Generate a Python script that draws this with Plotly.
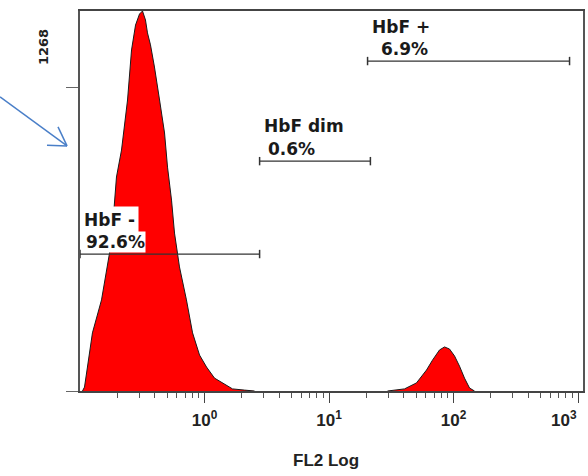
import plotly.graph_objects as go
import math

# ---- data ----
# FL2 intensity (linear units, log axis) and event counts of the histogram outline
fl2_peak1 = [0.1047, 0.1087, 0.1148, 0.1259, 0.1489, 0.1726, 0.1824, 0.1892, 0.1963, 0.2155,
             0.2409, 0.2594, 0.2793, 0.3006, 0.3177, 0.3357, 0.3483, 0.3681, 0.3963, 0.4355,
             0.4775, 0.5047, 0.5433, 0.5741, 0.6295, 0.7161, 0.8017, 0.9120, 1.038, 1.203,
             1.395, 1.679, 2.095, 2.523]
cnt_peak1 = [0, 13, 80, 194, 304, 460, 544, 637, 714, 804,
             971, 1138, 1221, 1258, 1268, 1238, 1195, 1155, 1081, 971,
             861, 747, 637, 527, 414, 304, 194, 120, 80, 43,
             27, 7, 3, 0]
fl2_peak2 = [29.5, 40.4, 50.4, 60.7, 67.8, 77.2, 84.7, 92.9, 101.9, 111.7, 122.5, 134.5, 147.5]
cnt_peak2 = [0, 7, 27, 70, 103, 137, 147, 140, 117, 83, 43, 10, 0]

y_max = 1268
y_tick = 1014

# gates: name, percentage, start, end, level (counts)
gate_names = ["HbF -", "HbF dim", "HbF +"]
gate_pcts = ["92.6%", "0.6%", "6.9%"]
gate_start = [0.1, 2.77, 20.4]
gate_end = [2.77, 21.5, 855]
gate_level = [457, 767, 1101]

x_tick_vals = [1, 10, 100, 1000]
x_tick_text = ["10<sup>0</sup>", "10<sup>1</sup>", "10<sup>2</sup>",
               "10<sup>3</sup>" + "\u00a0" * 6]
x_title = "FL2 Log"

fig = go.Figure()

for xs, ys in [(fl2_peak1, cnt_peak1), (fl2_peak2, cnt_peak2)]:
    fig.add_trace(go.Scatter(x=xs, y=ys, mode="lines", fill="tozeroy",
                             fillcolor="#ff0000", line=dict(color="#1a1a1a", width=1),
                             hoverinfo="skip", showlegend=False))

for s, e, lv in zip(gate_start, gate_end, gate_level):
    fig.add_trace(go.Scatter(x=[s, e], y=[lv, lv], mode="lines+markers",
                             line=dict(color="#333333", width=1.3),
                             marker=dict(symbol="line-ns", size=6,
                                         line=dict(color="#333333", width=1.5)),
                             hoverinfo="skip", showlegend=False))

lab_font = dict(family="DejaVu Sans", size=17, color="#1a1a1a", weight="bold")
name_dx = [0.0, 0.0, 0.0]
pct_dx = [0.04, 0.06, 0.10]
name_dy = [115, 117, 114]
for i in range(3):
    x0 = math.log10(gate_start[i])
    bg = "white" if i == 0 else "rgba(0,0,0,0)"
    fig.add_annotation(x=x0 + name_dx[i], y=gate_level[i] + name_dy[i], xref="x", yref="y",
                       text=gate_names[i], showarrow=False, xanchor="left", yanchor="middle",
                       font=lab_font, bgcolor=bg, borderpad=3)
    fig.add_annotation(x=x0 + pct_dx[i], y=gate_level[i], xref="x", yref="y",
                       text=gate_pcts[i], showarrow=False, xanchor="left", yanchor="bottom",
                       yshift=1, font=lab_font, bgcolor=bg, borderpad=0)

# y max label
fig.add_annotation(x=-0.0736, y=0.905, xref="paper", yref="paper", text=str(y_max),
                   textangle=-90, showarrow=False, xanchor="center", yanchor="middle",
                   font=dict(family="DejaVu Sans", size=13, color="#222", weight="bold"))
# x title
fig.add_annotation(x=0.49, y=-0.184, xref="paper", yref="paper", text=x_title,
                   showarrow=False, xanchor="center", yanchor="middle",
                   font=dict(family="Liberation Sans", size=17, color="#222", weight="bold"))

# blue arrow (outside plot)
blue = "#4a7fc8"
tip = (-0.0258, 0.645)
fig.add_shape(type="line", xref="paper", yref="paper", x0=-0.159, y0=0.774, x1=tip[0], y1=tip[1],
              line=dict(color=blue, width=1.5))
fig.add_shape(type="line", xref="paper", yref="paper", x0=-0.0437, y0=0.695, x1=tip[0], y1=tip[1],
              line=dict(color=blue, width=1.5))
fig.add_shape(type="line", xref="paper", yref="paper", x0=-0.0656, y0=0.647, x1=tip[0], y1=tip[1],
              line=dict(color=blue, width=1.5))

minor_vals = [m * 10 ** d for d in range(-1, 3) for m in range(2, 10)]

fig.update_xaxes(type="log", range=[-1.0, 3.04], showgrid=False, zeroline=False,
                 showline=True, linecolor="#444", linewidth=1.5, mirror=True,
                 ticks="outside", ticklen=10, tickcolor="#444", tickwidth=1,
                 tickvals=x_tick_vals, ticktext=x_tick_text, ticklabelstandoff=3,
                 ticklabeloverflow="allow", automargin=False,
                 tickfont=dict(family="Liberation Sans", size=17, color="#222", weight="bold"),
                 minor=dict(tickvals=minor_vals, ticks="outside", ticklen=5,
                            tickcolor="#555", tickwidth=1))
fig.update_yaxes(range=[0, y_max], showgrid=False, zeroline=False,
                 showline=True, linecolor="#555", linewidth=1.5, mirror=True,
                 ticks="outside", ticklen=12, tickcolor="#666", tickwidth=1,
                 tickvals=[0, y_tick], showticklabels=False, automargin=False)

fig.update_layout(width=588, height=476, margin=dict(l=80, r=5, t=11, b=85),
                  paper_bgcolor="white", plot_bgcolor="white", showlegend=False)

fig.write_html("out.html", config={"displayModeBar": False},
               post_script="document.body.style.margin='0';")
